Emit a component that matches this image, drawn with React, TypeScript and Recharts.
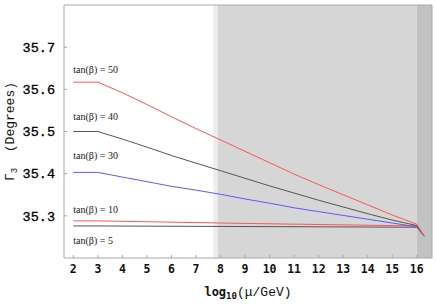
import React from 'react';
import { ComposedChart, Line, XAxis, YAxis, ReferenceArea, ReferenceDot } from 'recharts';

const xTicks = [2, 3, 4, 5, 6, 7, 8, 9, 10, 11, 12, 13, 14, 15, 16];
const yTicks = [35.3, 35.4, 35.5, 35.6, 35.7];

const tan50 = [
  { x: 2, y: 35.617 }, { x: 3, y: 35.617 }, { x: 4, y: 35.592 }, { x: 5, y: 35.564 },
  { x: 6, y: 35.535 }, { x: 7, y: 35.507 }, { x: 8, y: 35.48 }, { x: 9, y: 35.453 },
  { x: 10, y: 35.426 }, { x: 11, y: 35.399 }, { x: 12, y: 35.374 }, { x: 13, y: 35.35 },
  { x: 14, y: 35.326 }, { x: 15, y: 35.302 }, { x: 16, y: 35.28 }, { x: 16.3, y: 35.252 },
];
const tan40 = [
  { x: 2, y: 35.5 }, { x: 3, y: 35.5 }, { x: 4, y: 35.482 }, { x: 5, y: 35.463 },
  { x: 6, y: 35.443 }, { x: 7, y: 35.425 }, { x: 8, y: 35.407 }, { x: 9, y: 35.389 },
  { x: 10, y: 35.371 }, { x: 11, y: 35.354 }, { x: 12, y: 35.337 }, { x: 13, y: 35.321 },
  { x: 14, y: 35.305 }, { x: 15, y: 35.29 }, { x: 16, y: 35.277 }, { x: 16.3, y: 35.252 },
];
const tan30 = [
  { x: 2, y: 35.403 }, { x: 3, y: 35.403 }, { x: 4, y: 35.392 }, { x: 5, y: 35.381 },
  { x: 6, y: 35.37 }, { x: 7, y: 35.361 }, { x: 8, y: 35.351 }, { x: 9, y: 35.34 },
  { x: 10, y: 35.33 }, { x: 11, y: 35.319 }, { x: 12, y: 35.31 }, { x: 13, y: 35.301 },
  { x: 14, y: 35.292 }, { x: 15, y: 35.283 }, { x: 16, y: 35.274 }, { x: 16.3, y: 35.252 },
];
const tan10 = [
  { x: 2, y: 35.288 }, { x: 3, y: 35.288 }, { x: 9, y: 35.282 }, { x: 16, y: 35.276 }, { x: 16.3, y: 35.252 },
];
const tan5 = [
  { x: 2, y: 35.276 }, { x: 3, y: 35.276 }, { x: 16, y: 35.273 }, { x: 16.3, y: 35.252 },
];

const seriesLabels = [
  { text: 'tan(β) = 50', y: 35.648 },
  { text: 'tan(β) = 40', y: 35.535 },
  { text: 'tan(β) = 30', y: 35.444 },
  { text: 'tan(β) = 10', y: 35.314 },
  { text: 'tan(β) = 5', y: 35.242 },
];

const mono = '"Liberation Mono", "DejaVu Sans Mono", monospace';
const sansMono = '"DejaVu Sans Mono", "Liberation Mono", monospace';
const serif = '"Liberation Serif", "DejaVu Serif", serif';
const frame = '#a8a8a8';

const XLabel = (props: any) => {
  const vb = props.viewBox || {};
  const cx = vb.x + vb.width / 2;
  return (
    <text x={cx} y={296} textAnchor="middle" fontFamily={sansMono} fontWeight="bold" fontSize={12} fill="#111">
      log<tspan fontSize={9} dy={3}>10</tspan><tspan dy={-3} fontWeight="normal" fontFamily={mono} fontSize={13}>(μ/GeV)</tspan>
    </text>
  );
};

const YLabel = (props: any) => {
  const vb = props.viewBox || {};
  const cy = vb.y + vb.height / 2;
  return (
    <text x={14} y={cy} transform={`rotate(-90, 14, ${cy})`} textAnchor="middle" fontFamily={mono} fontSize={13} fill="#111">
      Γ<tspan fontSize={9} dy={3}>3</tspan><tspan dy={-3} xmlSpace="preserve">  (Degrees)</tspan>
    </text>
  );
};

export default function App() {
  return (
    <div style={{ position: 'absolute', left: 0, top: 0, width: 436, height: 305, background: '#fff' }}>
      <ComposedChart width={436} height={305} margin={{ top: 0, right: 0, bottom: 0, left: 0 }}>
        <XAxis
          xAxisId="b"
          type="number"
          dataKey="x"
          domain={[1.62, 16.62]}
          ticks={xTicks}
          allowDataOverflow
          height={47}
          stroke={frame}
          tickSize={-3}
          tickMargin={10}
          tick={{ fontFamily: sansMono, fontWeight: 'bold', fontSize: 11.5, fill: '#111' }}
          label={<XLabel />}
        />
        <XAxis
          xAxisId="t"
          orientation="top"
          type="number"
          dataKey="x"
          domain={[1.62, 16.62]}
          ticks={xTicks}
          allowDataOverflow
          height={5}
          stroke={frame}
          tickSize={-3}
          tick={false}
        />
        <YAxis
          yAxisId="l"
          type="number"
          domain={[35.2, 35.8]}
          ticks={yTicks}
          allowDataOverflow
          width={64}
          stroke={frame}
          tickSize={-3}
          tickMargin={12}
          tick={{ fontFamily: mono, fontSize: 13.5, fill: '#000', stroke: '#000', strokeWidth: 0.3 }}
          label={<YLabel />}
        />
        <YAxis
          yAxisId="r"
          orientation="right"
          type="number"
          domain={[35.2, 35.8]}
          ticks={yTicks}
          allowDataOverflow
          width={4}
          stroke={frame}
          tickSize={-3}
          tick={false}
        />
        <ReferenceArea xAxisId="b" yAxisId="l" x1={7.71} x2={7.88} y1={35.2} y2={35.8} fill="#ececec" fillOpacity={1} stroke="none" />
        <ReferenceArea xAxisId="b" yAxisId="l" x1={7.88} x2={16} y1={35.2} y2={35.8} fill="#d6d6d6" fillOpacity={1} stroke="none" />
        <ReferenceArea xAxisId="b" yAxisId="l" x1={16} x2={16.62} y1={35.2} y2={35.8} fill="#c2c2c2" fillOpacity={1} stroke="none" />
        <Line xAxisId="b" yAxisId="l" data={tan5} dataKey="y" type="linear" stroke="#555" strokeWidth={1} dot={false} isAnimationActive={false} />
        <Line xAxisId="b" yAxisId="l" data={tan10} dataKey="y" type="linear" stroke="#ff5555" strokeWidth={1} dot={false} isAnimationActive={false} />
        <Line xAxisId="b" yAxisId="l" data={tan30} dataKey="y" type="linear" stroke="#5a5aff" strokeWidth={1} dot={false} isAnimationActive={false} />
        <Line xAxisId="b" yAxisId="l" data={tan40} dataKey="y" type="linear" stroke="#555" strokeWidth={1} dot={false} isAnimationActive={false} />
        <Line xAxisId="b" yAxisId="l" data={tan50} dataKey="y" type="linear" stroke="#ff5555" strokeWidth={1} dot={false} isAnimationActive={false} />
        {seriesLabels.map((l) => (
          <ReferenceDot
            key={l.text}
            xAxisId="b"
            yAxisId="l"
            x={2}
            y={l.y}
            r={0}
            shape={(p: any) => (
              <text x={p.cx} y={p.cy} dy="0.35em" fontFamily={serif} fontSize={10} fill="#222">
                {l.text}
              </text>
            )}
          />
        ))}
      </ComposedChart>
    </div>
  );
}
